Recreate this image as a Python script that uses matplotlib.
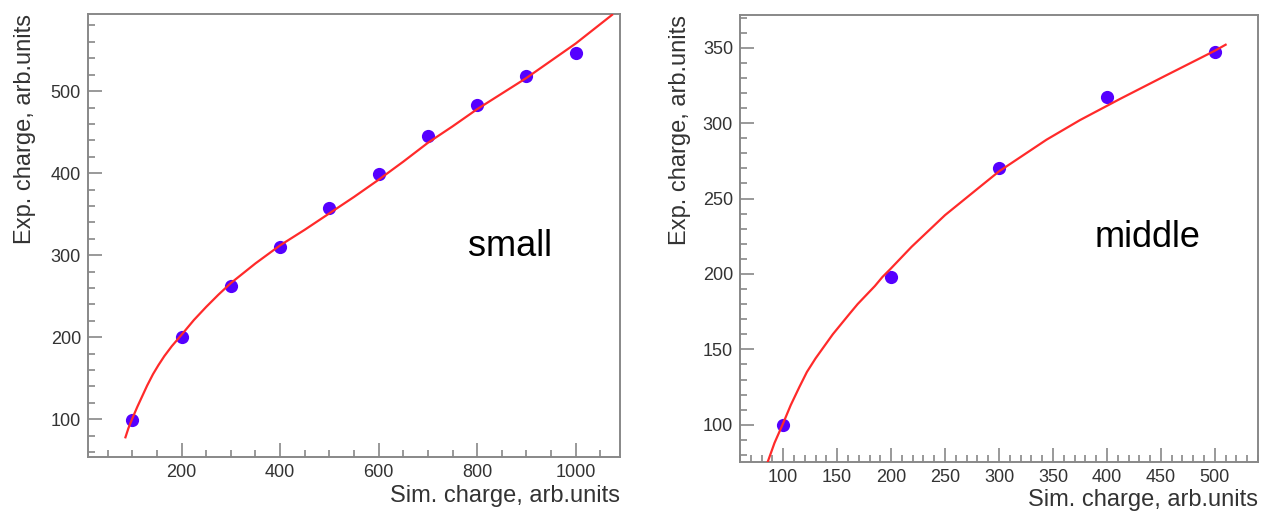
import numpy as np
import matplotlib
matplotlib.use("Agg")
import matplotlib.pyplot as plt
from matplotlib.ticker import MultipleLocator

plt.rcParams['font.family'] = ['Liberation Sans', 'DejaVu Sans']

# --- data ---
# left panel ("small")
small_sim = [100, 200, 300, 400, 500, 600, 700, 800, 900, 1000]
small_exp = [99, 200, 262, 310, 357, 399, 445, 483, 518, 547]
small_fit_x = [86, 92, 100, 110, 120, 130, 142, 153, 165, 180, 200, 225, 250, 275, 300,
               350, 400, 450, 500, 550, 600, 650, 700, 750, 800, 850, 900, 950, 1000, 1074]
small_fit_y = [78, 89, 101, 115, 128, 141, 155, 166, 177, 189, 203, 221, 237, 252, 266,
               290, 312, 331, 351, 371, 392, 414, 437, 457, 478, 497, 516, 537, 558, 593]

# right panel ("middle")
mid_sim = [100, 200, 300, 400, 500]
mid_exp = [100, 198, 270, 317, 347]
mid_fit_x = [85, 92, 100, 107, 115, 122, 130, 138, 146, 154, 162, 169, 177, 185, 192,
             199, 219, 250, 281, 300, 344, 375, 412, 453, 500, 510]
mid_fit_y = [74, 88, 101, 113, 125, 135, 144, 152, 160, 167, 174, 180, 186, 192, 198,
             203, 218, 239, 257, 268, 289, 302, 316, 331, 348, 352]

xlabel = "Sim. charge, arb.units"
ylabel = "Exp. charge, arb.units"

W, H = 1261, 512
fig = plt.figure(figsize=(W / 100, H / 100), dpi=100)

frame_col = '#888888'
text_col = '#333333'
pt_col = '#5500ff'
fit_col = '#ff2a2a'


def panel(rect, xs, ys, fx, fy, xlim, ylim, xmaj, xmin, ymaj, ymin, tag, tag_xy):
    ax = fig.add_axes(rect)
    ax.plot(fx, fy, color=fit_col, lw=1.6, zorder=3, solid_joinstyle='round')
    ax.plot(xs, ys, 'o', color=pt_col, ms=9.5, mec='none', zorder=2)
    ax.set_xlim(*xlim)
    ax.set_ylim(*ylim)
    ax.xaxis.set_major_locator(MultipleLocator(xmaj))
    ax.xaxis.set_minor_locator(MultipleLocator(xmin))
    ax.yaxis.set_major_locator(MultipleLocator(ymaj))
    ax.yaxis.set_minor_locator(MultipleLocator(ymin))
    ax.tick_params(which='both', direction='in', top=False, right=False,
                   color=frame_col, width=1.2, labelcolor=text_col, labelsize=13)
    ax.tick_params(which='major', length=10, pad=5)
    ax.tick_params(which='minor', length=5)
    for s in ax.spines.values():
        s.set_color(frame_col)
        s.set_linewidth(1.4)
    ax.text(tag_xy[0], tag_xy[1], tag, fontsize=26, color='black',
            ha='left', va='center')
    return ax


# left panel
ax1 = panel([88 / W, 1 - 457 / H, 532 / W, 443 / H],
            small_sim, small_exp, small_fit_x, small_fit_y,
            (10, 1090), (54, 594), 200, 50, 100, 20, "small", (782, 310))
# right panel
ax2 = panel([740 / W, 1 - 462 / H, 518 / W, 447 / H],
            mid_sim, mid_exp, mid_fit_x, mid_fit_y,
            (60, 540), (75.3, 371.7), 50, 10, 50, 10, "middle", (389, 224))

# axis titles, ROOT style (right / top aligned)
fig.text(620 / W, 1 - 496 / H, xlabel, ha='right', va='center', fontsize=17, color=text_col)
fig.text(1258 / W, 1 - 500 / H, xlabel, ha='right', va='center', fontsize=17, color=text_col)
fig.text(25 / W, 1 - 14 / H, ylabel, rotation=90, ha='center', va='top', fontsize=17, color=text_col)
fig.text(680 / W, 1 - 15 / H, ylabel, rotation=90, ha='center', va='top', fontsize=17, color=text_col)

fig.savefig("out.png", dpi=100)
